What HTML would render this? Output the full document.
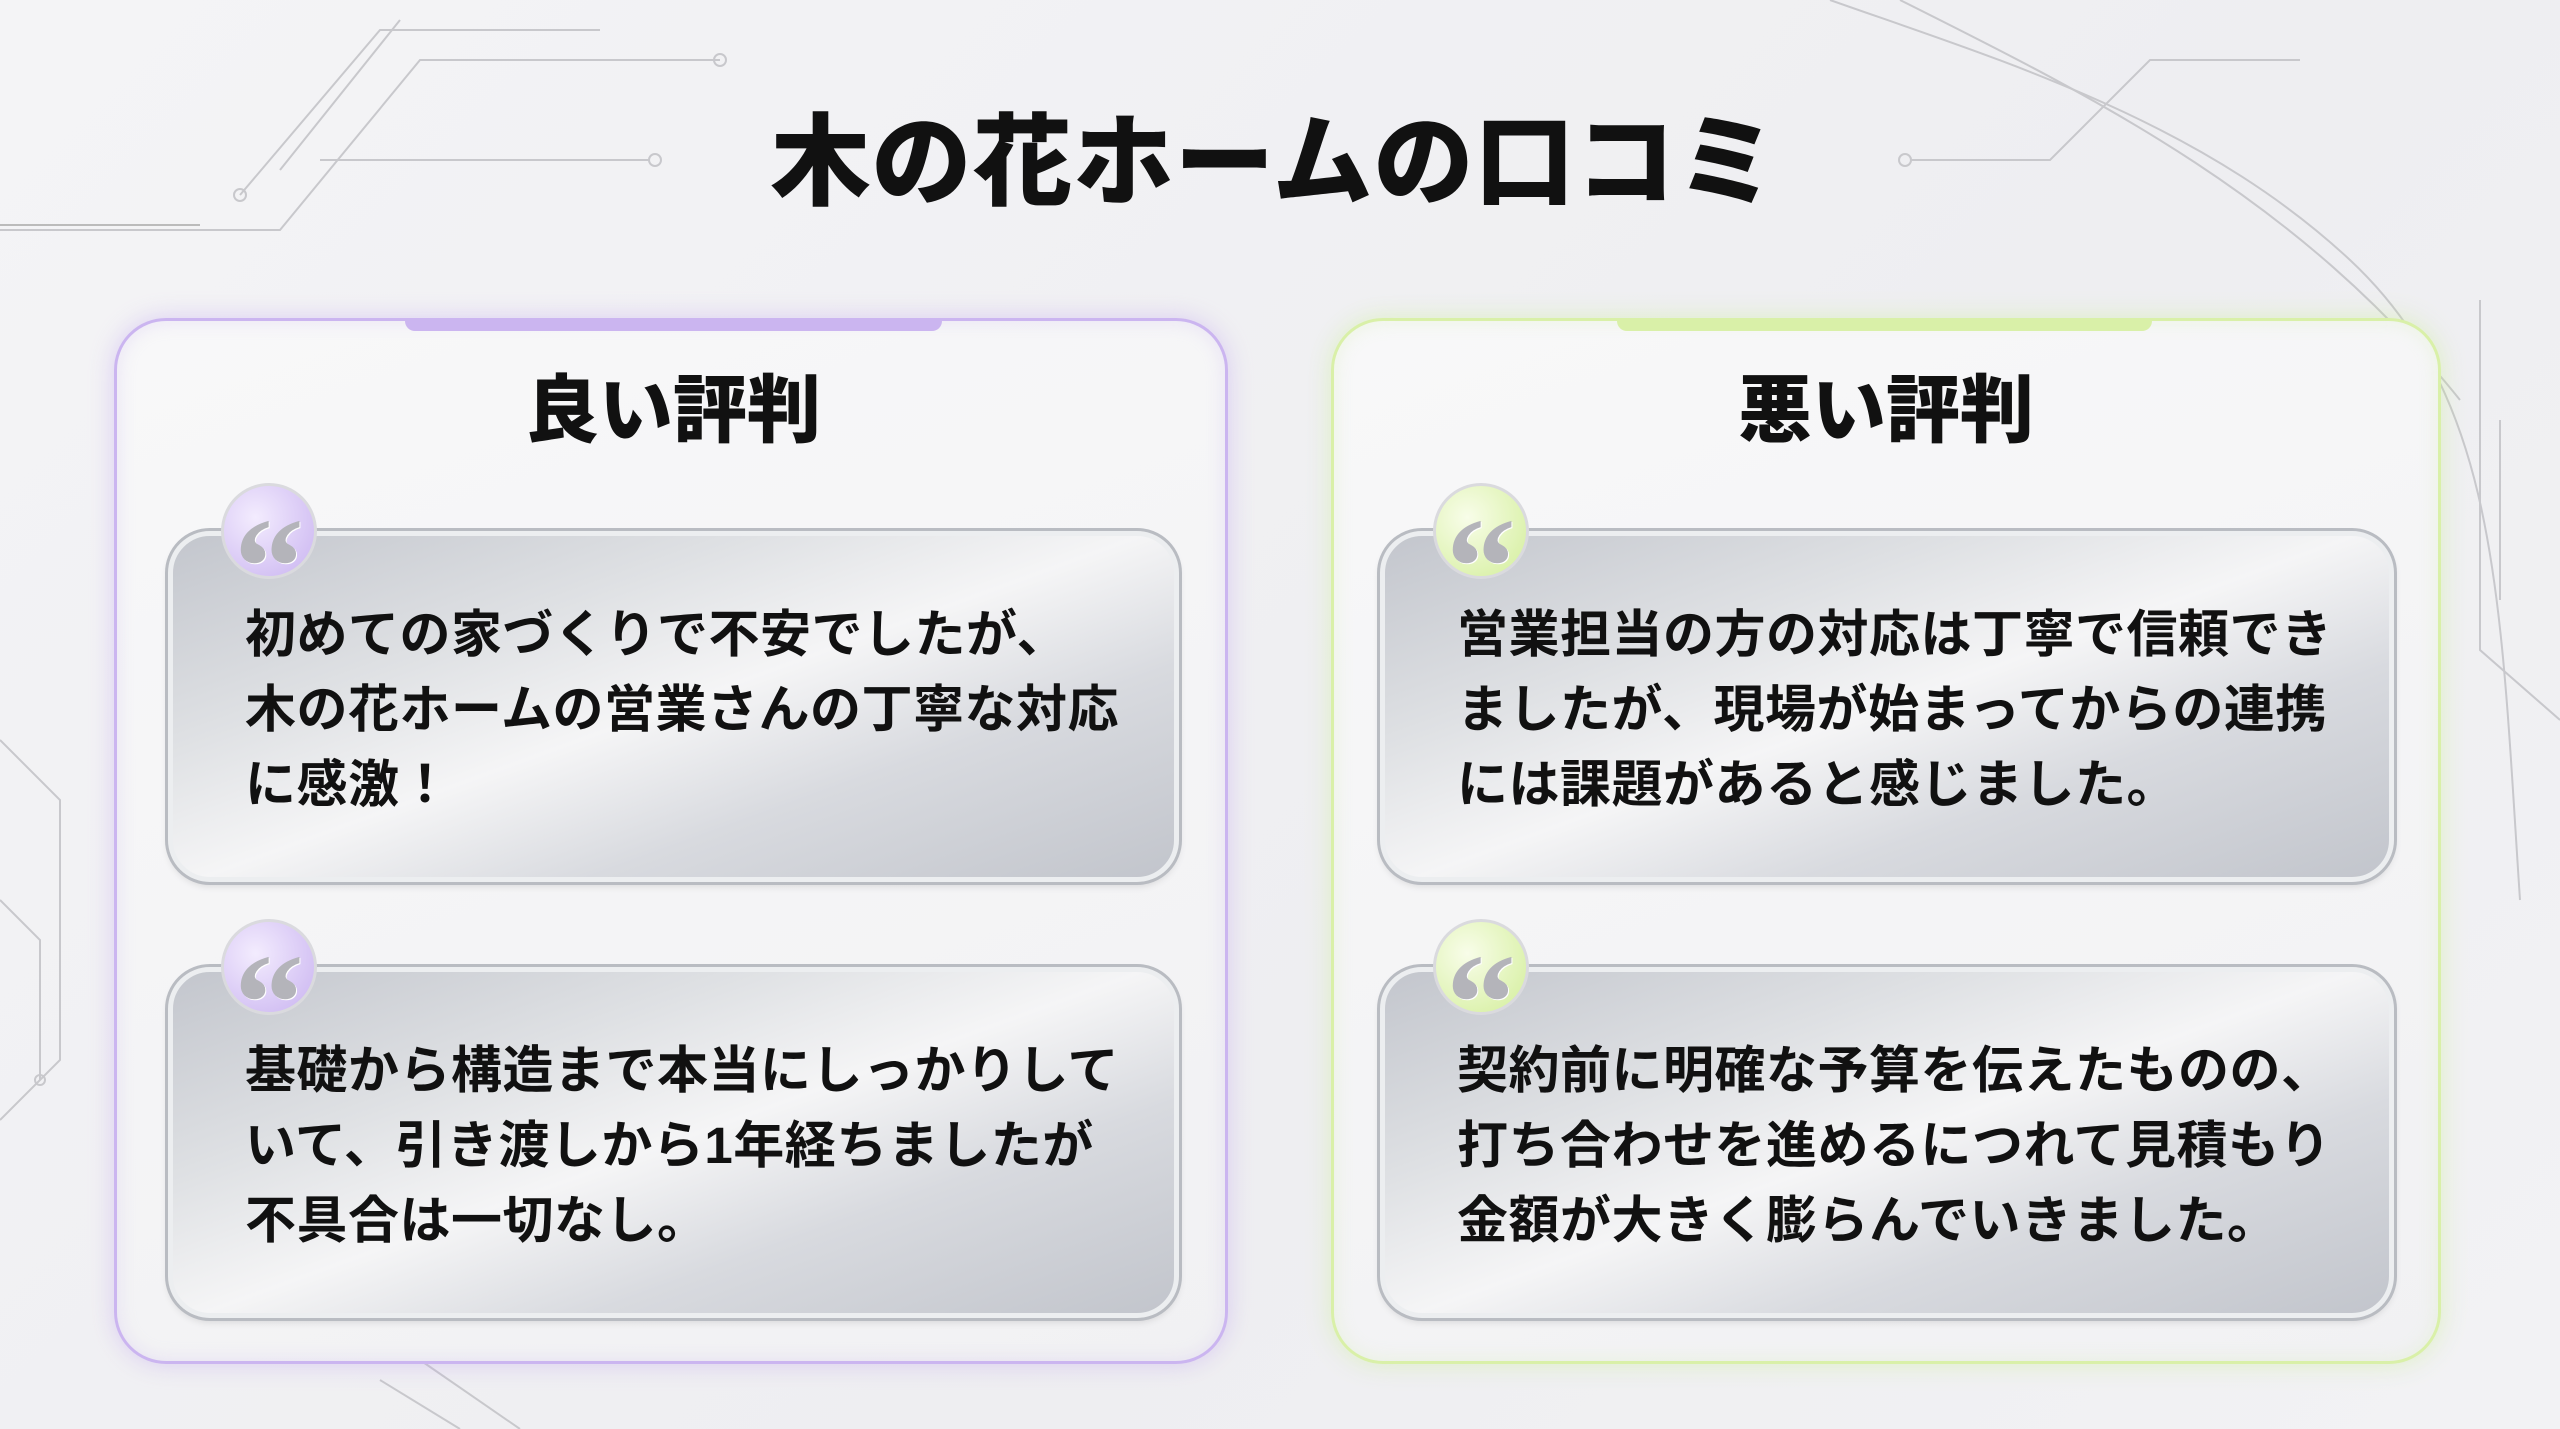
<!DOCTYPE html>
<html><head><meta charset="utf-8"><style>
html,body{margin:0;padding:0}
body{width:2560px;height:1429px;position:relative;overflow:hidden;background:linear-gradient(135deg,#f4f4f6,#eeeef1 60%,#f2f2f4);font-family:"Liberation Sans","Noto Sans CJK JP",sans-serif;font-weight:bold;color:#111}
.abs{position:absolute}
.title{left:0;width:2548px;top:98px;text-align:center;font-size:100px;line-height:130px;font-weight:900;letter-spacing:1px}
.panel{border-radius:52px;background:linear-gradient(160deg,#f8f8f9,#f1f1f3);box-sizing:border-box}
.p1{left:114px;top:318px;width:1114px;height:1046px;border:3px solid #cbb5f0;box-shadow:0 0 24px rgba(190,160,240,.45),inset 0 0 18px rgba(200,180,240,.3)}
.p2{left:1331px;top:318px;width:1110px;height:1046px;border:3px solid #d9f0a8;box-shadow:0 0 24px rgba(200,240,140,.45),inset 0 0 18px rgba(210,240,170,.3)}
.bar{height:13px;top:318px;border-radius:0 0 10px 10px}
.h{font-size:74px;line-height:90px;text-align:center;width:600px;top:366px;font-weight:900}
.card{border-radius:42px;box-sizing:border-box;border:5px solid #eceef0;outline:3px solid #b9bcc2;background:linear-gradient(160deg,#c3c6cd 0%,#dfe1e4 30%,#f5f5f6 50%,#d8dadf 70%,#c2c5cc 100%);box-shadow:0 4px 8px rgba(0,0,0,.12)}
.t{font-size:51px;line-height:75px;color:#111;white-space:nowrap;letter-spacing:.5px}
.q{width:96px;height:96px;border-radius:50%;box-sizing:border-box;border:3px solid #dadade;overflow:hidden;font-family:"Liberation Serif",serif;font-size:140px;line-height:1;padding-top:12px;text-align:center;color:#b4b4ba;text-shadow:1px 1px 0 #fff}
.qp{background:radial-gradient(circle at 35% 35%,#f3ecfe,#c9b3f0)}
.qg{background:radial-gradient(circle at 35% 35%,#f8fde9,#d3ee9a)}
</style></head><body>
<svg class="abs" style="left:0;top:0" width="2560" height="1429">
<g fill="none" stroke="#c8c8cc" stroke-width="2">
<path d="M0 230 H280 L420 60 H720"/><path d="M240 195 L380 30 H600"/><path d="M280 170 L400 20"/><path d="M320 160 H650"/>
<circle cx="240" cy="195" r="6"/><circle cx="655" cy="160" r="6"/><circle cx="720" cy="60" r="6"/>
<path d="M0 225 H200" stroke="#bbb"/>
<path d="M1910 160 H2050 L2150 60 H2300"/><circle cx="1905" cy="160" r="6"/>
<path d="M1830 0 C2000 60 2200 120 2350 260 S2500 600 2520 900"/><path d="M1900 0 C2100 100 2300 200 2460 400"/>
<path d="M2480 300 V650 L2560 720"/><path d="M2500 420 V600"/>
<path d="M0 740 L60 800 V1060 L0 1120"/><path d="M0 900 L40 940 V1080"/><circle cx="40" cy="1080" r="5"/>
<path d="M380 1380 L460 1429"/><path d="M420 1360 L520 1429"/>
</g></svg>
<div class="abs title">木の花ホームの口コミ</div>

<div class="abs panel p1"></div>
<div class="abs bar" style="left:405px;width:537px;background:#cbb5f0"></div>
<div class="abs h" style="left:373px">良い評判</div>
<div class="abs card" style="left:168px;top:531px;width:1011px;height:351px"></div>
<div class="abs q qp" style="left:221px;top:483px">“</div>
<div class="abs t" style="left:245px;top:597px">初めての家づくりで不安でしたが、<br>木の花ホームの営業さんの丁寧な対応<br>に感激！</div>
<div class="abs card" style="left:168px;top:967px;width:1011px;height:351px"></div>
<div class="abs q qp" style="left:221px;top:919px">“</div>
<div class="abs t" style="left:245px;top:1033px">基礎から構造まで本当にしっかりして<br>いて、引き渡しから1年経ちましたが<br>不具合は一切なし。</div>

<div class="abs panel p2"></div>
<div class="abs bar" style="left:1617px;width:535px;background:#d9f0a8"></div>
<div class="abs h" style="left:1586px">悪い評判</div>
<div class="abs card" style="left:1380px;top:531px;width:1014px;height:351px"></div>
<div class="abs q qg" style="left:1433px;top:483px">“</div>
<div class="abs t" style="left:1457px;top:597px">営業担当の方の対応は丁寧で信頼でき<br>ましたが、現場が始まってからの連携<br>には課題があると感じました。</div>
<div class="abs card" style="left:1380px;top:967px;width:1014px;height:351px"></div>
<div class="abs q qg" style="left:1433px;top:919px">“</div>
<div class="abs t" style="left:1457px;top:1033px">契約前に明確な予算を伝えたものの、<br>打ち合わせを進めるにつれて見積もり<br>金額が大きく膨らんでいきました。</div>
</body></html>
